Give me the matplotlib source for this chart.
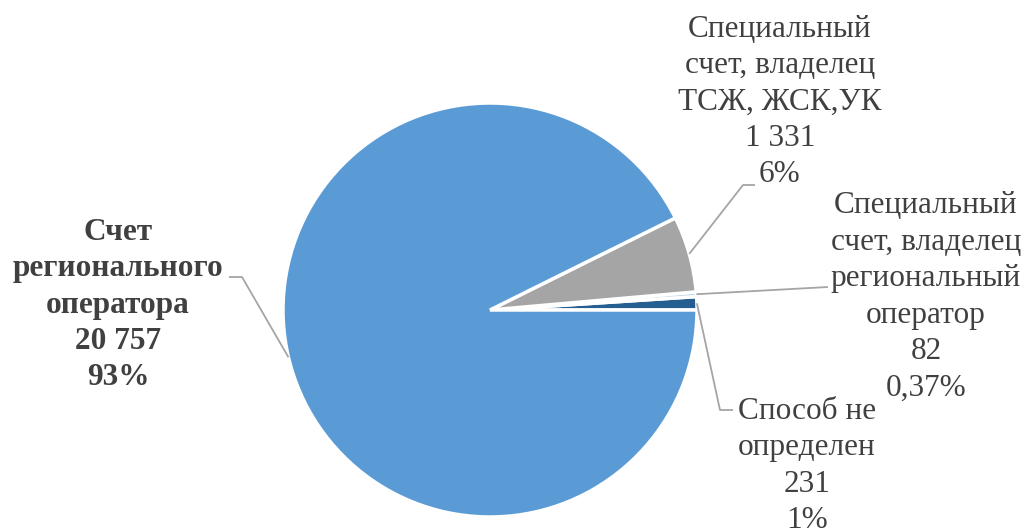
import numpy as np
import matplotlib
matplotlib.use("Agg")
import matplotlib.pyplot as plt

# Data (order drawn counter-clockwise from 3 o'clock)
categories = ["Способ не\nопределен", "Специальный\nсчет, владелец\nрегиональный\nоператор",
              "Специальный\nсчет, владелец\nТСЖ, ЖСК,УК", "Счет\nрегионального\nоператора"]
values = [231, 82, 1331, 20757]
value_labels = ["231", "82", "1 331", "20 757"]
pct_labels = ["1%", "0,37%", "6%", "93%"]
colors = ["#255E91", "#BDD7EE", "#A5A5A5", "#5B9BD5"]

W, H = 1027, 528
fig = plt.figure(figsize=(W / 100, H / 100), dpi=100)
ax = fig.add_axes([0, 0, 1, 1])

cx, cy, R = 490, H - 310, 207
wedges, _ = ax.pie(values, colors=colors, startangle=0, counterclock=True,
                   center=(cx, cy), radius=R, frame=True,
                   wedgeprops=dict(edgecolor="white", linewidth=2.5))
ax.set_xlim(0, W)
ax.set_ylim(0, H)
ax.axis("off")

# label layout: (text center x, text center y in px from top), elbow, end of leader
layout = [
    dict(tx=807, ty=466, elbow=(720, 410), end=(733, 410), bold=False),
    dict(tx=926, ty=297, elbow=None, end=(828, 287), bold=False),
    dict(tx=780, ty=102, elbow=(743, 185), end=(755, 185), bold=False),
    dict(tx=118, ty=305, elbow=(242, 277), end=(229, 277), bold=True),
]

lc = "#A5A5A5"
for w, cat, vl, pl, lay in zip(wedges, categories, value_labels, pct_labels, layout):
    ang = np.deg2rad((w.theta1 + w.theta2) / 2)
    ax0 = cx + R * np.cos(ang)
    ay0 = cy + R * np.sin(ang)
    pts = [(ax0, ay0)]
    if lay["elbow"] is not None:
        pts.append((lay["elbow"][0], H - lay["elbow"][1]))
    pts.append((lay["end"][0], H - lay["end"][1]))
    xs, ys = zip(*pts)
    ax.plot(xs, ys, color=lc, lw=1.3, solid_capstyle="butt")
    txt = f"{cat}\n{vl}\n{pl}"
    ax.text(lay["tx"], H - lay["ty"], txt, ha="center", va="center",
            fontsize=22.5, family="Liberation Serif", color="#404040",
            fontweight="bold" if lay["bold"] else "normal", linespacing=1.34)

fig.savefig("out.png", dpi=100, facecolor="white")
